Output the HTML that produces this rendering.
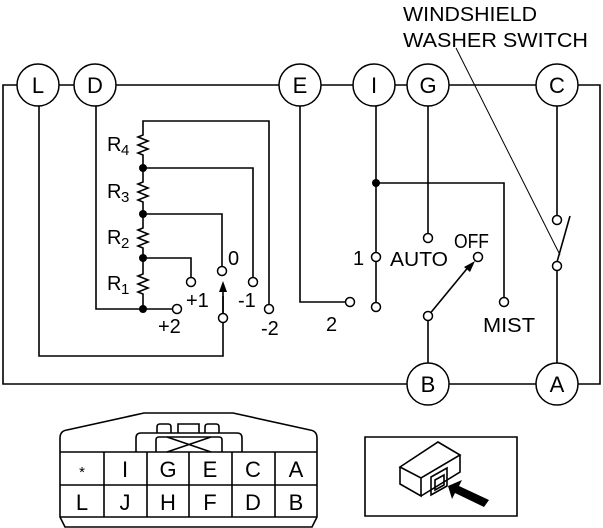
<!DOCTYPE html>
<html><head><style>body{margin:0;background:#fff}svg{display:block}text{font-family:"Liberation Sans",sans-serif;fill:#000}</style></head><body>
<svg width="603" height="528" viewBox="0 0 603 528" xmlns="http://www.w3.org/2000/svg">
<g fill="none" stroke="#000" stroke-width="1.6">
<path d="M3,85 H600 V384 H3 Z"/>
<path d="M39,106 V356 H223 V285"/>
<path d="M96,106 V309 H173"/>
<path d="M143,309 V294 l-5,-2 10,-4 -10,-4 10,-4 -10,-4 5,-2 V248 l-5,-2 10,-4 -10,-4 10,-4 -10,-4 5,-2 V202 l-5,-2 10,-4 -10,-4 10,-4 -10,-4 5,-2 V155 l-5,-2 10,-4 -10,-4 10,-4 -10,-4 5,-2 V121 H269 V305"/>
<path d="M143,168 H253 V278"/>
<path d="M143,214 H222 V267"/>
<path d="M143,258 H191 V278"/>
<path d="M223,314 V296"/>
<path d="M300,106 V302 H346"/>
<path d="M376,106 V253 M376,262 V303 M376,183 H504 V298"/>
<path d="M428,106 V234"/>
<path d="M428,320 V363 M428,316 L470,265"/>
<path d="M557,106 V216 M557,270 V363 M557,262 L570,216"/>
</g>
<line x1="456" y1="48" x2="560" y2="255" stroke="#000" stroke-width="1"/>
<polygon points="223,281 219,292 227,292" fill="#000"/>
<polygon points="475,261 464,267 470,272" fill="#000"/>
<g fill="#000">
<circle cx="143" cy="168" r="4"/><circle cx="143" cy="214" r="4"/><circle cx="143" cy="258" r="4"/><circle cx="143" cy="309" r="4"/><circle cx="376" cy="183" r="4"/>
</g>
<g fill="#fff" stroke="#000" stroke-width="1.5">
<circle cx="177" cy="309" r="4.5"/><circle cx="191" cy="282" r="4.5"/><circle cx="222" cy="271" r="4.5"/><circle cx="223" cy="318" r="4.5"/><circle cx="253" cy="282" r="4.5"/><circle cx="269" cy="309" r="4.5"/>
<circle cx="350" cy="302" r="4.5"/><circle cx="376" cy="257" r="4.5"/><circle cx="376" cy="307" r="4.5"/><circle cx="428" cy="238" r="4.5"/><circle cx="478" cy="257" r="4.5"/><circle cx="428" cy="316" r="4.5"/><circle cx="504" cy="302" r="4.5"/><circle cx="557" cy="220" r="4.5"/><circle cx="557" cy="266" r="4.5"/>
<circle cx="38" cy="85" r="21"/><circle cx="95" cy="85" r="21"/><circle cx="300" cy="85" r="21"/><circle cx="374" cy="85" r="21"/><circle cx="428" cy="85" r="21"/><circle cx="557" cy="85" r="21"/><circle cx="428" cy="384" r="21"/><circle cx="557" cy="384" r="21"/>
</g>
<g font-size="22" text-anchor="middle">
<text x="38" y="93">L</text><text x="95" y="93">D</text><text x="300" y="93">E</text><text x="374" y="93">I</text><text x="428" y="93">G</text><text x="557" y="93">C</text><text x="428" y="392">B</text><text x="557" y="392">A</text>
</g>
<g font-size="20">
<text x="107" y="151">R</text><text x="121" y="155" font-size="15">4</text>
<text x="107" y="198">R</text><text x="121" y="202" font-size="15">3</text>
<text x="107" y="244">R</text><text x="121" y="248" font-size="15">2</text>
<text x="107" y="290">R</text><text x="121" y="294" font-size="15">1</text>
<text x="228" y="265">0</text><text x="186" y="307">+1</text><text x="158" y="333">+2</text><text x="238" y="307">-1</text><text x="261" y="335">-2</text>
<text x="353" y="265">1</text><text x="390" y="266" textLength="58" lengthAdjust="spacingAndGlyphs">AUTO</text><text x="454" y="248" textLength="35" lengthAdjust="spacingAndGlyphs">OFF</text><text x="326" y="331">2</text><text x="483" y="332" textLength="52" lengthAdjust="spacingAndGlyphs">MIST</text>
<text x="403" y="21" textLength="134" lengthAdjust="spacingAndGlyphs">WINDSHIELD</text><text x="403" y="47" textLength="185" lengthAdjust="spacingAndGlyphs">WASHER SWITCH</text>
</g>
<g fill="none" stroke="#000" stroke-width="1.6">
<path d="M60,517 V438 Q60,431 67,430 L144,413 H233 L310,430 Q317,431 317,438 V517 L312,527 H65 L60,517 Z"/>
<path d="M60,452 H317 M60,485 H317 M60,517 H317"/>
<path d="M104,452 V517 M147,452 V517 M189,452 V517 M232,452 V517 M275,452 V517"/>
<path d="M136,452 V438 Q136,433 141,433 H237 Q242,433 242,438 V452"/>
<path d="M156,452 V440 Q156,437 159,437 H219 Q222,437 222,440 V452"/>
<path d="M167,437 L211,452 M211,437 L167,452"/>
<path d="M157,433 V427 Q157,424 160,424 H168 Q171,424 171,427 V433 M178,433 V424 H199 V433 M205,433 V427 Q205,424 208,424 H216 Q219,424 219,427 V433"/>
<path d="M365,437 H517 V516 H365 Z"/>
<path d="M400,467 L438,442 L460,455 L421,478 Z M400,467 V484 L421,496 V478 M421,496 L460,472 V455"/>
<path d="M431,477 L447,468 V486 L431,495 Z M435,480 L444,475 V485 L435,490 Z"/>
</g>
<polygon points="448,486 462,480 459,486 489,500 484,507 455,493 452,499" fill="#000"/>
<g font-size="22" text-anchor="middle">
<text x="82" y="477" font-size="15">*</text><text x="125" y="477">I</text><text x="168" y="477">G</text><text x="210" y="477">E</text><text x="253" y="477">C</text><text x="296" y="477">A</text>
<text x="82" y="510">L</text><text x="125" y="510">J</text><text x="168" y="510">H</text><text x="210" y="510">F</text><text x="253" y="510">D</text><text x="296" y="510">B</text>
</g>
</svg>
</body></html>
